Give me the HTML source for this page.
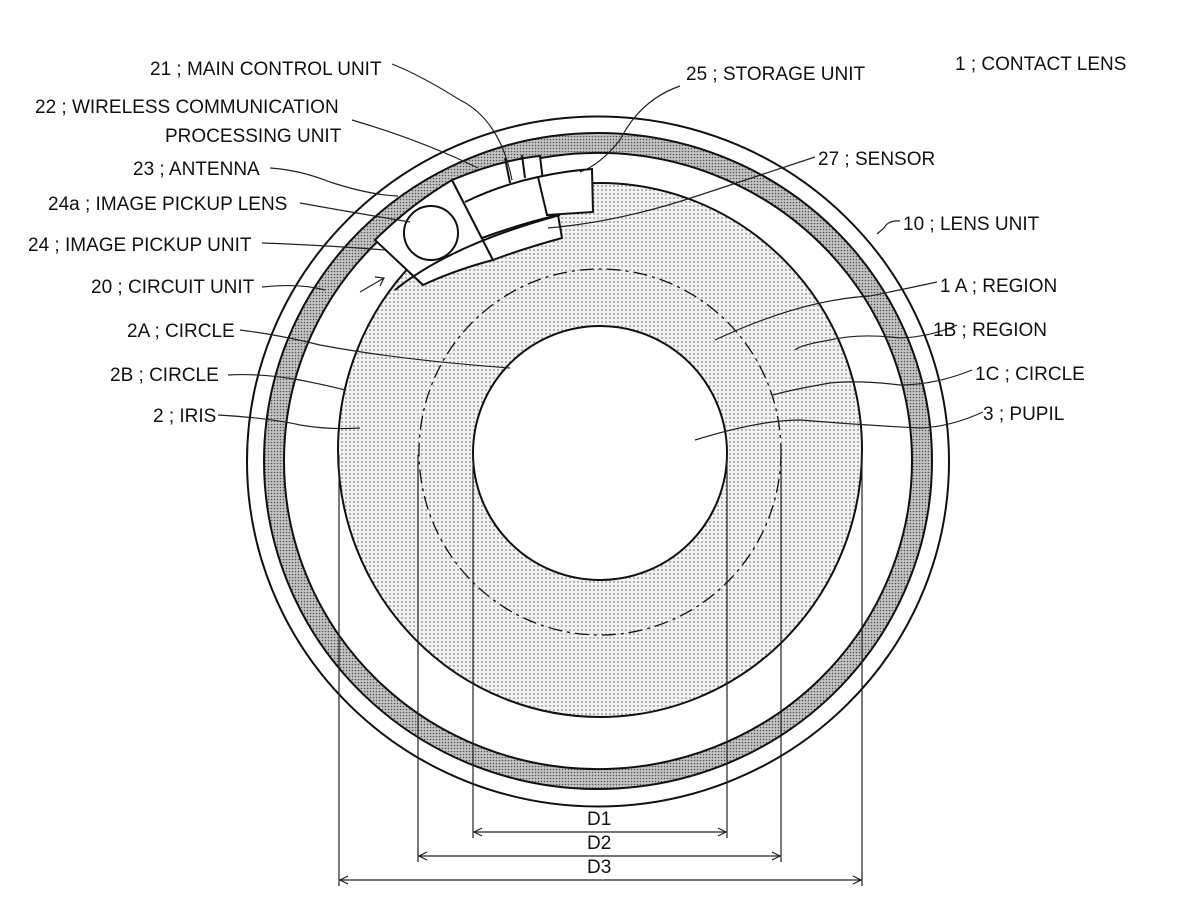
<!DOCTYPE html>
<html><head><meta charset="utf-8"><style>
html,body{margin:0;padding:0;background:#fff;}
svg{display:block}
text{font-family:"Liberation Sans",sans-serif;font-size:19px;fill:#111;}
</style></head><body>
<svg width="1200" height="900" viewBox="0 0 1200 900" xmlns="http://www.w3.org/2000/svg">
<defs>
<pattern id="dots" width="4" height="4" patternUnits="userSpaceOnUse">
<rect width="4" height="4" fill="#f2f2f2"/><circle cx="2" cy="2" r="0.9" fill="#888"/></pattern>
<pattern id="dark" width="3" height="3" patternUnits="userSpaceOnUse">
<rect width="3" height="3" fill="#c4c4c4"/><circle cx="1.5" cy="1.5" r="0.8" fill="#555"/></pattern>
</defs>
<g fill="none" stroke="#111" stroke-width="2">
<ellipse cx="598" cy="461.5" rx="351" ry="345" fill="#fff"/>
<path d="M598,461 m-334,0 a334,328 0 1,0 668,0 a334,328 0 1,0 -668,0 Z M598,461 m-314,0 a314,308 0 1,1 628,0 a314,308 0 1,1 -628,0 Z" fill="url(#dark)" fill-rule="evenodd"/>
<ellipse cx="600" cy="450" rx="262" ry="267" fill="url(#dots)"/>
<ellipse cx="600" cy="452" rx="181" ry="183" stroke-dasharray="14,5,3,5" stroke-width="1.3"/>
<ellipse cx="600" cy="453" rx="127" ry="127" fill="#fff"/>
</g>
<!-- circuit unit -->
<g fill="#fff" stroke="#111" stroke-width="2">
<path d="M375,240 Q410,205 452,180 L493,260 Q455,270 423,285 Z"/>
<path d="M452,180 Q500,160 540,156 L547,215 L558,215 L562,238 Q525,248 493,260 Z"/>
<path d="M538,177 Q565,171 592,169 L593,212 L547,215 Z"/>
<path d="M465,202 Q500,185 538,177" fill="none"/>
<path d="M505,158 L510,183 M522,155 L525,178" fill="none"/>
<path d="M482,238 Q520,224 558,215" fill="none"/>
<path d="M395,290 Q450,245 560,215" fill="none"/>
<circle cx="431" cy="233" r="27"/>
</g>
<!-- dimension lines -->
<g stroke="#222" stroke-width="1.2" fill="none">
<line x1="473" y1="455" x2="473" y2="838"/><line x1="727" y1="455" x2="727" y2="838"/>
<line x1="418" y1="455" x2="418" y2="862"/><line x1="781" y1="455" x2="781" y2="862"/>
<line x1="339" y1="455" x2="339" y2="886"/><line x1="862" y1="455" x2="862" y2="886"/>
<line x1="474" y1="832" x2="726" y2="832"/><path d="M482,828 L474,832 L482,836 M718,828 L726,832 L718,836"/>
<line x1="419" y1="856" x2="780" y2="856"/><path d="M427,852 L419,856 L427,860 M772,852 L780,856 L772,860"/>
<line x1="340" y1="880" x2="861" y2="880"/><path d="M348,876 L340,880 L348,884 M853,876 L861,880 L853,884"/>
</g>
<text x="587" y="825">D1</text><text x="587" y="849">D2</text><text x="587" y="873">D3</text>
<!-- leaders -->
<g stroke="#222" stroke-width="1.2" fill="none">
<path d="M392,64 Q420,75 460,100 Q500,120 512,180"/>
<path d="M352,120 Q420,140 478,168"/>
<path d="M680,86 Q640,100 620,140 Q600,165 580,172"/>
<path d="M270,168 Q300,170 330,182 Q370,195 398,196"/>
<path d="M815,157 Q760,175 700,195 Q620,222 548,228"/>
<path d="M300,203 Q350,212 410,222"/>
<path d="M262,243 Q320,245 385,250"/>
<path d="M262,287 Q300,283 325,290"/>
<path d="M360,292 L384,278 M375,277 L384,278 L380,286"/>
<path d="M900,221 Q888,220 884,228 L877,234"/>
<path d="M937,282 Q900,290 870,296 Q800,300 715,340"/>
<path d="M957,325 Q930,337 900,338 Q860,333 830,340 Q800,345 795,350"/>
<path d="M972,370 Q935,385 900,385 Q860,380 830,383 Q790,390 773,395"/>
<path d="M983,412 Q950,427 920,428 Q860,425 800,420 Q760,420 695,440"/>
<path d="M240,330 Q280,335 320,345 Q400,360 510,368"/>
<path d="M228,375 Q260,373 300,380 Q330,386 345,390"/>
<path d="M218,415 Q270,418 300,425 Q330,430 360,428"/>
</g>
<text x="150" y="75">21 ; MAIN CONTROL UNIT</text>
<text x="686" y="80">25 ; STORAGE UNIT</text>
<text x="955" y="70">1 ; CONTACT LENS</text>
<text x="35" y="113">22 ; WIRELESS COMMUNICATION</text>
<text x="165" y="142">PROCESSING UNIT</text>
<text x="133" y="175">23 ; ANTENNA</text>
<text x="818" y="165">27 ; SENSOR</text>
<text x="48" y="210">24a ; IMAGE PICKUP LENS</text>
<text x="903" y="230">10 ; LENS UNIT</text>
<text x="28" y="251">24 ; IMAGE PICKUP UNIT</text>
<text x="91" y="293">20 ; CIRCUIT UNIT</text>
<text x="940" y="292">1 A ; REGION</text>
<text x="127" y="337">2A ; CIRCLE</text>
<text x="933" y="336">1B ; REGION</text>
<text x="110" y="381">2B ; CIRCLE</text>
<text x="975" y="380">1C ; CIRCLE</text>
<text x="153" y="422">2 ; IRIS</text>
<text x="983" y="420">3 ; PUPIL</text>
</svg>
</body></html>
